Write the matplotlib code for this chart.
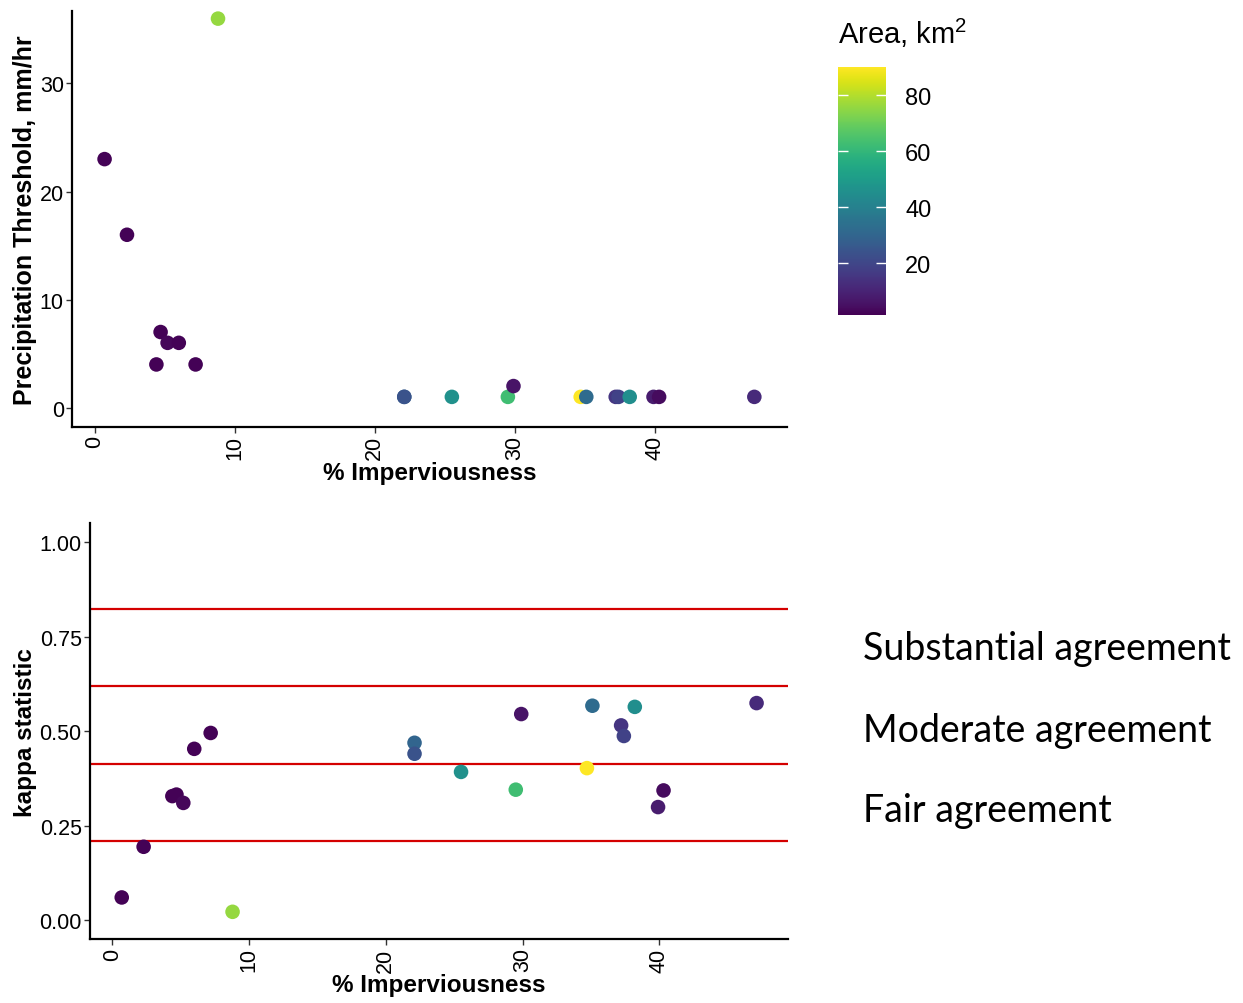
import numpy as np
import matplotlib
matplotlib.use("Agg")
import matplotlib.pyplot as plt

plt.rcParams['font.family'] = ['Liberation Sans', 'DejaVu Sans']
plt.rcParams['mathtext.fontset'] = 'custom'
plt.rcParams['mathtext.rm'] = 'Liberation Sans'
plt.rcParams['mathtext.default'] = 'regular'

# site data
imperv = [0.7, 2.3, 4.4, 4.7, 5.2, 6.0, 7.2, 8.8, 22.1, 22.1, 25.5, 29.5, 29.9,
          34.7, 35.1, 37.2, 37.4, 38.2, 39.9, 40.3, 47.1]
threshold = [23, 16, 4, 7, 6, 6, 4, 36, 1, 1, 1, 1, 2, 1, 1, 1, 1, 1, 1, 1, 1]
kappa = [0.06, 0.194, 0.328, 0.332, 0.31, 0.453, 0.495, 0.022, 0.469, 0.44, 0.392,
         0.345, 0.545, 0.402, 0.567, 0.515, 0.487, 0.564, 0.299, 0.343, 0.574]
area = [2, 2, 2, 2, 3, 2, 2, 76, 30, 24, 46, 63, 6, 90, 32, 15, 19, 45, 8, 4, 12]

kappa_lines = [0.822, 0.62, 0.414, 0.208]
agree_labels = ["Substantial agreement", "Moderate agreement", "Fair agreement"]
agree_y = [0.72, 0.503, 0.29]

vmin, vmax = 1.4, 90
cbar_ticks = [20, 40, 60, 80]

fig = plt.figure(figsize=(12.43, 10.04), dpi=100)

x0, x1 = min(imperv), max(imperv)
pad = 0.05 * (x1 - x0)
xlim = (x0 - pad, x1 + pad)


def style(ax):
    for s in ['top', 'right']:
        ax.spines[s].set_visible(False)
    for s in ['left', 'bottom']:
        ax.spines[s].set_linewidth(1.6)
    ax.tick_params(length=4, width=1, labelsize=15.5, color='#333333', pad=2)
    ax.tick_params(axis='x', labelrotation=90)


# top panel
ax1 = fig.add_axes([0.058, 0.574, 0.575, 0.414])
sc = ax1.scatter(imperv, threshold, c=area, cmap='viridis', vmin=vmin, vmax=vmax,
                 s=110, linewidths=0, zorder=3)
ax1.set_xlim(xlim)
ax1.set_ylim(-1.76, 36.7)
ax1.set_xticks([0, 10, 20, 30, 40])
ax1.set_yticks([0, 10, 20, 30])
style(ax1)
ax1.set_xlabel("% Imperviousness", fontsize=17.5, fontweight='bold', labelpad=1)
ax1.set_ylabel("Precipitation Threshold, mm/hr", fontsize=18, fontweight='bold', labelpad=2)

# colorbar
cax = fig.add_axes([0.674, 0.685, 0.0386, 0.247])
cb = fig.colorbar(sc, cax=cax, ticks=cbar_ticks)
cb.outline.set_visible(False)
cax.tick_params(left=True, right=True, labelleft=False, labelright=True,
                direction='in', color='white', length=7, width=1, labelsize=17, pad=14)
fig.text(0.674, 1 - 44 / 1004, "Area, km$^{2}$", fontsize=21, va='baseline', ha='left')

# bottom panel
ax2 = fig.add_axes([0.0724, 0.0637, 0.5618, 0.4143])
for yv in kappa_lines:
    ax2.axhline(yv, color='#d40000', linewidth=1.6, zorder=2)
ax2.scatter(imperv, kappa, c=area, cmap='viridis', vmin=vmin, vmax=vmax,
            s=110, linewidths=0, zorder=3)
ax2.set_xlim(xlim)
ax2.set_ylim(-0.05, 1.05)
ax2.set_xticks([0, 10, 20, 30, 40])
ax2.set_yticks([0, 0.25, 0.5, 0.75, 1.0])
ax2.set_yticklabels(["0.00", "0.25", "0.50", "0.75", "1.00"])
style(ax2)
ax2.set_xlabel("% Imperviousness", fontsize=17.5, fontweight='bold', labelpad=1)
ax2.set_ylabel("kappa statistic", fontsize=17.5, fontweight='bold', labelpad=2)

for lab, yv in zip(agree_labels, agree_y):
    ax2.annotate(lab, xy=(863 / 1243, yv), xycoords=('figure fraction', 'data'),
                 fontsize=27, family=['Lato', 'DejaVu Sans'], va='center', ha='left',
                 annotation_clip=False)

fig.savefig("out.png", dpi=100)
